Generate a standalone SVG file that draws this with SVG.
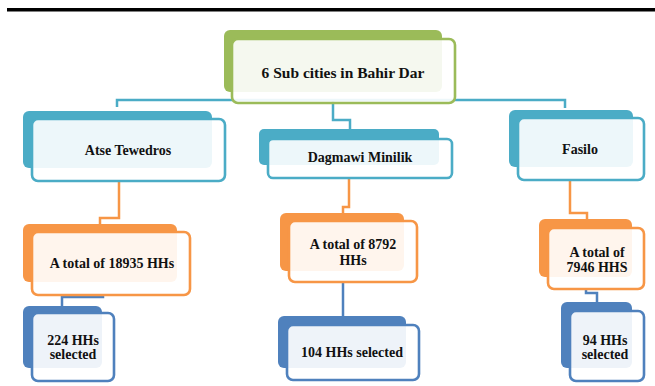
<svg xmlns="http://www.w3.org/2000/svg" width="655" height="386" viewBox="0 0 655 386">
<style>
text{font-family:"Liberation Serif","Times New Roman",serif;font-weight:bold;font-size:14px;fill:#111;text-anchor:middle}
.front{fill:#fff;fill-opacity:0.9;stroke-width:2.6}
.g .back{fill:#9bbb59}.g .front{stroke:#9bbb59}
.t .back{fill:#4bacc6}.t .front{stroke:#4bacc6}
.o .back{fill:#f79646}.o .front{stroke:#f79646}
.b .back{fill:#4f81bd}.b .front{stroke:#4f81bd}
.c{fill:none;stroke-width:2.5}
.ct{stroke:#4bacc6}.co{stroke:#f79646}.cb{stroke:#4f81bd}
</style>
<rect x="7" y="8" width="648" height="3.5" fill="#000"/>
<g id="connectors">
<path class="c ct" d="M117,107 V100 H565 V108"/>
<path class="c ct" d="M333,100 V120 H350 V129"/>
<path class="c co" d="M119,181 V218 H100 V224"/>
<path class="c co" d="M349,178 V207 H343 V213"/>
<path class="c co" d="M570,180 V213 H587 V219"/>
<path class="c cb" d="M103,295 V297 H62 V306"/>
<path class="c cb" d="M343,282 V316"/>
<path class="c cb" d="M586,289 V293 H597 V302"/>
</g>
<g id="root" class="g">
<rect class="back" x="224" y="30" width="218" height="62" rx="6"/>
<rect class="front" x="232" y="39" width="223" height="64" rx="6"/>
<text x="343" y="78" style="font-size:15.5px">6 Sub cities in Bahir Dar</text>
</g>
<g id="atse" class="t">
<rect class="back" x="23" y="111" width="189" height="57" rx="6"/>
<rect class="front" x="32" y="119" width="193" height="62" rx="6"/>
<text x="128" y="155">Atse Tewedros</text>
</g>
<g id="dagmawi" class="t">
<rect class="back" x="259" y="129" width="180" height="36" rx="5"/>
<rect class="front" x="268" y="139" width="184" height="39" rx="5"/>
<text x="360" y="162">Dagmawi Minilik</text>
</g>
<g id="fasilo" class="t">
<rect class="back" x="509" y="110" width="124" height="57" rx="6"/>
<rect class="front" x="518" y="118" width="126" height="62" rx="6"/>
<text x="580" y="154">Fasilo</text>
</g>
<g id="total1" class="o">
<rect class="back" x="23" y="224" width="154" height="58" rx="6"/>
<rect class="front" x="32" y="232" width="158" height="63" rx="6"/>
<text x="112" y="268">A total of 18935 HHs</text>
</g>
<g id="total2" class="o">
<rect class="back" x="280" y="213" width="124" height="58" rx="6"/>
<rect class="front" x="289" y="221" width="128" height="61" rx="6"/>
<text x="353" y="249">A total of 8792</text>
<text x="353" y="265">HHs</text>
</g>
<g id="total3" class="o">
<rect class="back" x="539" y="219" width="93" height="58" rx="6"/>
<rect class="front" x="548" y="228" width="96" height="61" rx="6"/>
<text x="597" y="257">A total of</text>
<text x="597" y="272">7946 HHS</text>
</g>
<g id="sel1" class="b">
<rect class="back" x="23" y="306" width="79" height="62" rx="6"/>
<rect class="front" x="32" y="313" width="82" height="68" rx="6"/>
<text x="73" y="345">224 HHs</text>
<text x="73" y="359">selected</text>
</g>
<g id="sel2" class="b">
<rect class="back" x="278" y="316" width="128" height="52" rx="6"/>
<rect class="front" x="287" y="325" width="132" height="55" rx="6"/>
<text x="352" y="357">104 HHs selected</text>
</g>
<g id="sel3" class="b">
<rect class="back" x="561" y="302" width="71" height="66" rx="6"/>
<rect class="front" x="570" y="311" width="74" height="70" rx="6"/>
<text x="605" y="345">94 HHs</text>
<text x="605" y="359">selected</text>
</g>
</svg>
